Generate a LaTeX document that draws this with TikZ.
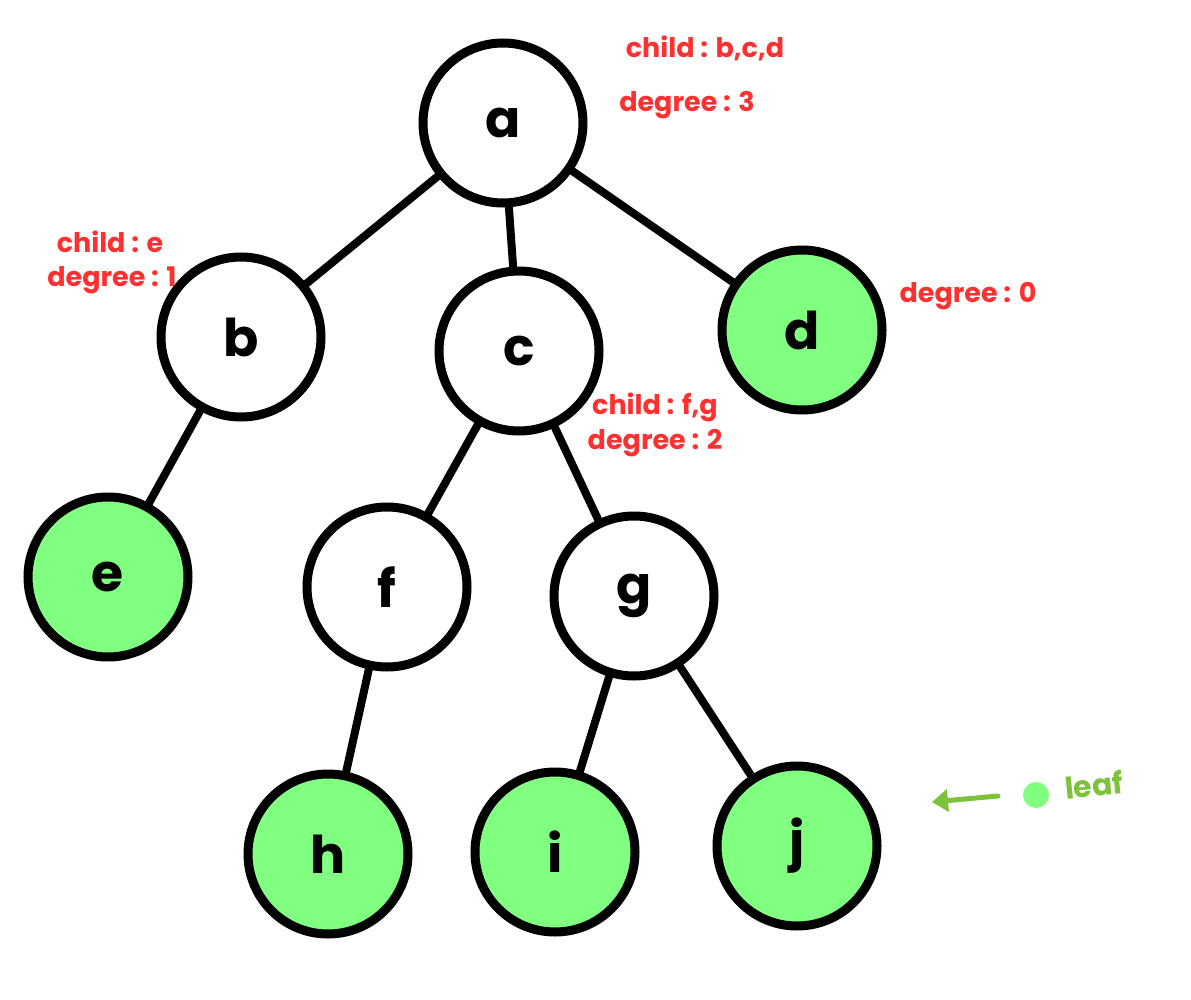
\documentclass[tikz,border=0pt]{standalone}
\usepackage{fontspec}
\setmainfont{Poppins}
\usetikzlibrary{arrows.meta}
\definecolor{leafgreen}{HTML}{80FF80}
\definecolor{notered}{HTML}{FF3030}
\definecolor{arrowgreen}{HTML}{7CC23A}
\tikzset{
  treenode/.style={circle, draw=black, line width=9pt, minimum size=160pt, inner sep=0pt, fill=white,
    font=\fontsize{52}{56}\selectfont\bfseries},
  leafnode/.style={treenode, fill=leafgreen},
  edge/.style={line width=8pt, line cap=round},
  note/.style={text=notered, font=\fontsize{27}{30}\selectfont\bfseries, inner sep=0pt},
}
\begin{document}
\begin{tikzpicture}[x=1pt,y=-1pt]
\useasboundingbox (0,0) rectangle (1191,1000);
\node[treenode] (a) at (503,123) {a};
\node[treenode] (b) at (241,337) {b};
\node[treenode] (c) at (519,351) {c};
\node[leafnode] (d) at (802,330) {d};
\node[leafnode] (e) at (108,577) {e};
\node[treenode] (f) at (387,587) {f};
\node[treenode] (g) at (634,596) {g};
\node[leafnode] (h) at (328,854) {h};
\node[leafnode] (i) at (555,852) {i};
\node[leafnode] (j) at (797,846) {j};
\draw[edge] (a) -- (b);
\draw[edge] (a) -- (c);
\draw[edge] (a) -- (d);
\draw[edge] (b) -- (e);
\draw[edge] (c) -- (f);
\draw[edge] (c) -- (g);
\draw[edge] (f) -- (h);
\draw[edge] (g) -- (i);
\draw[edge] (g) -- (j);
\node[note] (na1) at (705,48) {child : b,c,d};
\node[note] (na2) at (687,105) {degree : 3};
\node[note] (nb1) at (110,242) {child : e};
\node[note] (nb2) at (112,280) {degree : 1};
\node[note] (nc1) at (655,407) {child : f,g};
\node[note] (nc2) at (655,443) {degree : 2};
\node[note] (nd) at (968,296) {degree : 0};
\node[circle, fill=leafgreen, minimum size=26pt, inner sep=0pt] (dot) at (1036,795) {};
\coordinate (arrs) at (998,796);
\coordinate (arre) at (932,802);
\draw[arrowgreen, line width=5pt, line cap=round, -{Triangle[length=16pt,width=22pt]}] (arrs) -- (arre);
\node[text=arrowgreen, font=\fontsize{30}{32}\selectfont\bfseries, rotate=6, inner sep=0pt] (leaf) at (1094,785) {leaf};
\end{tikzpicture}
\end{document}
